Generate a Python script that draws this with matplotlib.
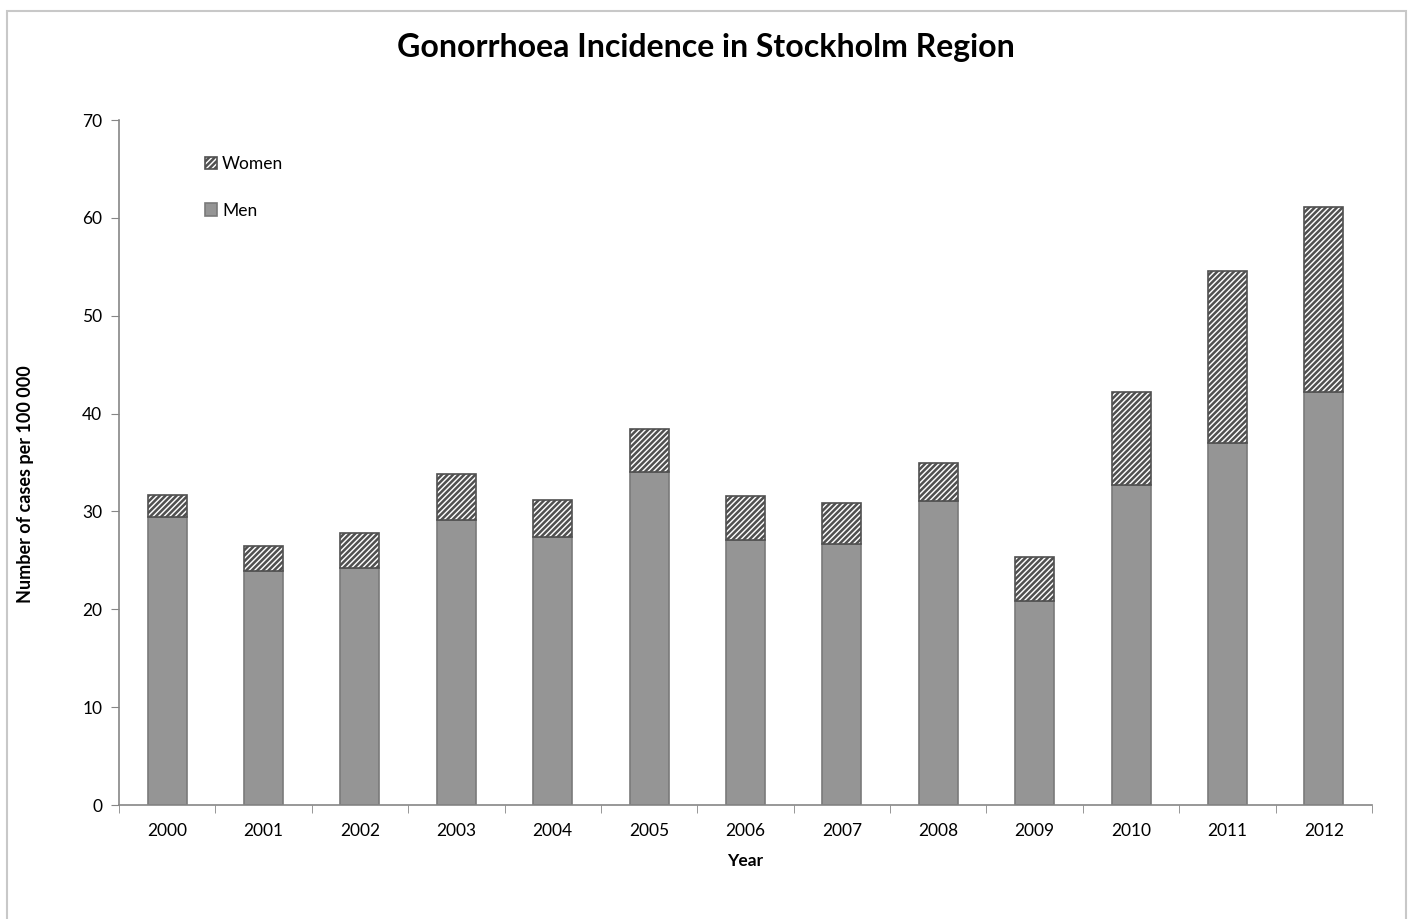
import matplotlib.pyplot as plt
import numpy as np
from matplotlib.patches import Rectangle

plt.rcParams["font.family"] = ["Lato", "DejaVu Sans"]
plt.rcParams["hatch.linewidth"] = 1.8

years = ["2000", "2001", "2002", "2003", "2004", "2005", "2006",
         "2007", "2008", "2009", "2010", "2011", "2012"]
men = [29.4, 23.9, 24.2, 29.1, 27.4, 34.0, 27.1, 26.7, 31.1, 20.8, 32.7, 37.0, 42.2]
total = [31.7, 26.5, 27.8, 33.8, 31.2, 38.4, 31.6, 30.9, 34.9, 25.3, 42.2, 54.6, 61.1]
women = [t - m for t, m in zip(total, men)]

axis_grey = "#868686"

fig = plt.figure(figsize=(14.09, 9.19), dpi=100)
ax = fig.add_axes([119 / 1409, 1 - 805 / 919, (1372 - 119) / 1409, (805 - 120) / 919])

# outer chart-area frame (Excel style)
fig.patches.append(Rectangle((7 / 1409, -0.02), 1399 / 1409, 1 - 11 / 919 + 0.02,
                             transform=fig.transFigure, fill=False,
                             edgecolor="#c8c8c8", linewidth=1.5))

x = np.arange(len(years))
ax.bar(x, men, width=0.405, color="#959595", edgecolor="#7a7a7a", linewidth=1.2,
       label="Men", zorder=2)
ax.bar(x, women, width=0.405, bottom=men, color="white", edgecolor="#505050",
       hatch="//////", linewidth=1.2, label="Women", zorder=2)

ax.set_xlim(-0.5, len(years) - 0.5)
ax.set_ylim(0, 70)
ax.set_yticks(range(0, 71, 10))
ax.set_xticks(x)
ax.set_xticklabels(years)
ax.set_xticks(np.arange(-0.5, len(years), 1.0), minor=True)
ax.tick_params(axis="x", which="major", length=0, pad=13, labelsize=12.5, colors="black")
ax.tick_params(axis="x", which="minor", length=6, direction="out", color=axis_grey)
ax.tick_params(axis="y", length=6, direction="out", color=axis_grey, pad=6,
               labelsize=12.5, labelcolor="black")
for s in ["top", "right"]:
    ax.spines[s].set_visible(False)
for s in ["left", "bottom"]:
    ax.spines[s].set_color(axis_grey)
    ax.spines[s].set_linewidth(1.2)

ax.set_xlabel("Year", fontsize=12.5, fontweight="bold", labelpad=10)
ax.set_ylabel("Number of cases per 100 000", fontsize=13, fontweight="bold")
ax.yaxis.set_label_coords(-0.068, 0.468)

fig.text(706 / 1409, 1 - 47 / 919, "Gonorrhoea Incidence in Stockholm Region",
         ha="center", va="center", fontsize=23, fontweight="bold")

handles, labels = ax.get_legend_handles_labels()
ax.legend(handles[::-1], labels[::-1], loc="upper left", bbox_to_anchor=(0.056, 0.97),
          frameon=False, fontsize=12.5, handlelength=0.7, handleheight=0.7,
          handletextpad=0.3, labelspacing=1.75)

fig.savefig("out.png", dpi=100)
